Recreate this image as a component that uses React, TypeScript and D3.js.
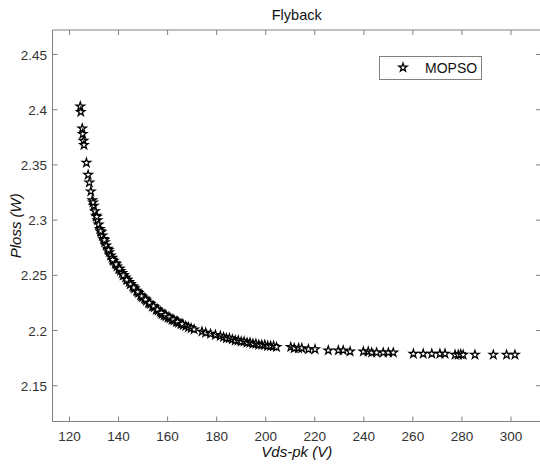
import React from "react";
import * as d3 from "d3";

const W = 540;
const H = 465;

const titleText = "Flyback";
const xLabel = "Vds-pk (V)";
const yLabel = "Ploss (W)";
const legendLabel = "MOPSO";

const xTicks = [120, 140, 160, 180, 200, 220, 240, 260, 280, 300];
const yTicks = [2.15, 2.2, 2.25, 2.3, 2.35, 2.4, 2.45];

const vds = [
  124.4, 124.6, 125.2, 125.4, 125.7, 125.9, 126.9, 128.1, 128.7, 129.3,
  129.9, 130.4, 130.9, 131.4, 131.9, 132.4, 132.9, 133.4, 133.9, 134.4,
  135.0, 135.6, 136.2, 136.8, 137.4, 138.0, 138.7, 139.4, 140.1, 140.8,
  141.5, 142.2, 142.9, 143.6, 144.3, 145.0, 145.8, 146.6, 147.4, 148.2,
  149.0, 149.8, 150.6, 151.4, 152.2, 153.0, 153.8, 154.6, 155.4, 156.2,
  157.0, 157.8, 158.6, 159.4, 160.2, 161.0, 161.8, 162.7, 163.6, 164.5,
  165.4, 166.4, 167.4, 168.5, 169.6, 170.8,
  127.6, 129.6, 131.1, 132.7, 134.2, 135.9, 137.6, 139.0, 140.4, 141.9,
  143.3, 144.8, 146.2, 147.8, 149.4, 151.0, 152.6, 154.2, 155.8, 157.4,
  159.0, 160.6, 162.2, 164.0, 165.9,
  174.0, 175.5, 177.5, 179.5,
  181.5, 182.8, 184.0, 185.2, 186.4, 187.6, 188.8, 190.0, 191.2, 192.4,
  193.6, 194.8, 196.0, 197.2, 198.4, 199.6, 200.8, 202.0, 203.2, 204.4,
  210.2, 211.6, 213.4, 214.7, 217.4, 220.1, 225.5, 229.6, 231.6, 234.4,
  239.8, 241.8, 243.2, 245.2, 247.9, 250.0, 252.0,
  260.2, 264.2, 267.7, 271.0, 273.1,
  277.2, 278.5, 279.5, 280.5, 285.3, 292.8, 298.2, 301.6,
];

const ploss = [
  2.403, 2.398, 2.383, 2.378, 2.372, 2.368, 2.352, 2.334, 2.326, 2.318,
  2.313, 2.308, 2.304, 2.300, 2.296, 2.292, 2.289, 2.286, 2.283, 2.280,
  2.277, 2.274, 2.271, 2.268, 2.266, 2.263, 2.261, 2.258, 2.256, 2.254,
  2.252, 2.250, 2.248, 2.246, 2.244, 2.242, 2.240, 2.238, 2.236, 2.234,
  2.232, 2.230, 2.229, 2.227, 2.225, 2.224, 2.222, 2.221, 2.219, 2.218,
  2.217, 2.215, 2.214, 2.213, 2.212, 2.211, 2.210, 2.209, 2.208, 2.207,
  2.206, 2.205, 2.204, 2.203, 2.202, 2.201,
  2.341, 2.316, 2.303, 2.290, 2.282, 2.273, 2.264, 2.260, 2.256, 2.250,
  2.246, 2.242, 2.239, 2.235, 2.231, 2.228, 2.225, 2.222, 2.219, 2.216,
  2.214, 2.212, 2.210, 2.208, 2.206,
  2.199, 2.198, 2.197, 2.196,
  2.195, 2.194, 2.193, 2.193, 2.192, 2.191, 2.191, 2.190, 2.190, 2.189,
  2.189, 2.188, 2.188, 2.187, 2.187, 2.187, 2.186, 2.186, 2.186, 2.185,
  2.185, 2.184, 2.184, 2.184, 2.183, 2.183, 2.182, 2.182, 2.182, 2.181,
  2.181, 2.181, 2.180, 2.180, 2.180, 2.180, 2.180,
  2.179, 2.179, 2.179, 2.179, 2.179,
  2.178, 2.178, 2.1785, 2.178, 2.178, 2.178, 2.178, 2.178,
];

const left = 52.5;
const right = 541;
const top = 30;
const bottom = 421.5;

const x = d3.scaleLinear().domain([113.07, 312.23]).range([left, right]);
const y = d3.scaleLinear().domain([2.1176, 2.4722]).range([bottom, top]);

const starPath = d3.symbol().type(d3.symbolStar).size(22)() as string;

const axisColor = "#808080";
const textColor = "#333333";
const font = "'Liberation Sans', Arial, Helvetica, sans-serif";

export default function App() {
  const points = vds.map((v, i) => ({ v, p: ploss[i] }));
  return (
    <svg
      width={W}
      height={H}
      style={{ position: "absolute", left: 0, top: 0, background: "#fff" }}
      fontFamily={font}
    >
      <rect x={0} y={0} width={W} height={H} fill="#fff" />
      <line x1={left} x2={right} y1={top} y2={top} stroke={axisColor} strokeWidth={1} />
      <line x1={left} x2={right} y1={bottom} y2={bottom} stroke={axisColor} strokeWidth={1} />
      <line x1={left} x2={left} y1={top} y2={bottom} stroke={axisColor} strokeWidth={1} />
      <line x1={right} x2={right} y1={top} y2={bottom} stroke={axisColor} strokeWidth={1} />

      {xTicks.map((t) => (
        <g key={"x" + t}>
          <line x1={x(t)} x2={x(t)} y1={bottom} y2={bottom - 5} stroke={axisColor} />
          <line x1={x(t)} x2={x(t)} y1={top} y2={top + 5} stroke={axisColor} />
          <text x={x(t)} y={441} textAnchor="middle" fontSize={13.5} fill={textColor}>
            {t}
          </text>
        </g>
      ))}
      {yTicks.map((t) => (
        <g key={"y" + t}>
          <line x1={left} x2={left + 5} y1={y(t)} y2={y(t)} stroke={axisColor} />
          <line x1={right} x2={right - 5} y1={y(t)} y2={y(t)} stroke={axisColor} />
          <text x={47} y={y(t) + 5} textAnchor="end" fontSize={13.5} fill={textColor}>
            {t.toFixed(2).replace(/0$/, "")}
          </text>
        </g>
      ))}

      <text x={(left + right) / 2} y={20} textAnchor="middle" fontSize={14.5} fill="#111">
        {titleText}
      </text>
      <text x={(left + right) / 2} y={457} textAnchor="middle" fontSize={15} fontStyle="italic" fill="#111">
        {xLabel}
      </text>
      <text
        transform={`translate(21, ${(top + bottom) / 2}) rotate(-90)`}
        textAnchor="middle"
        fontSize={15}
        fontStyle="italic"
        fill="#111"
      >
        {yLabel}
      </text>

      {points.map((d, i) => (
        <path
          key={i}
          d={starPath}
          transform={`translate(${x(d.v)},${y(d.p)})`}
          fill="#fff"
          stroke="#000"
          strokeWidth={1.25}
        />
      ))}

      <g>
        <rect x={379.5} y={56.5} width={102} height={23} fill="#fff" stroke={axisColor} strokeWidth={1} />
        <path d={starPath} transform="translate(403,67.5)" fill="#fff" stroke="#000" strokeWidth={1.25} />
        <text x={425} y={72.5} fontSize={14} fill="#111">
          {legendLabel}
        </text>
      </g>
    </svg>
  );
}
